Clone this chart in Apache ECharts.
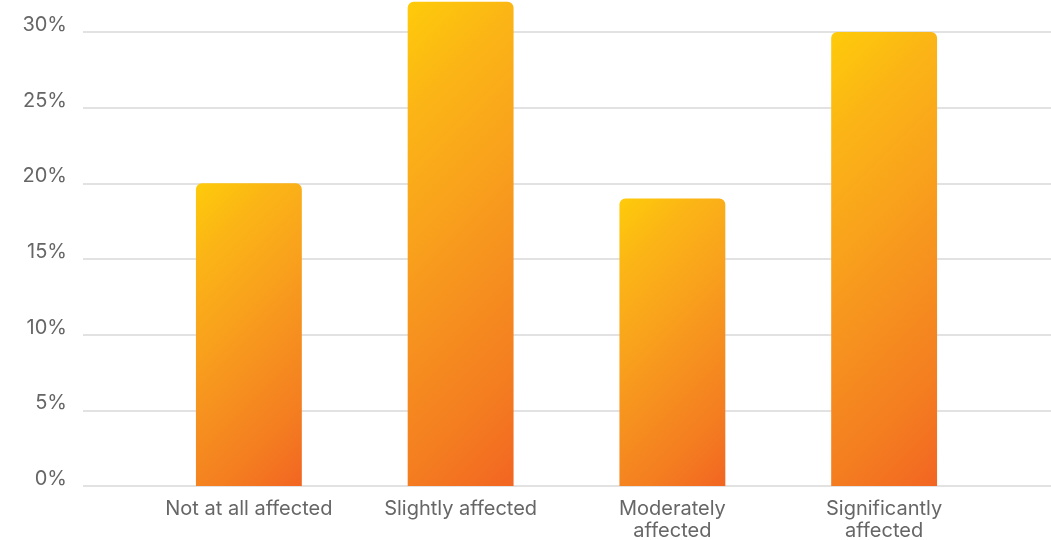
<!DOCTYPE html>
<html>
<head>
<meta charset="utf-8">
<script src="https://cdn.jsdelivr.net/npm/echarts@6/dist/echarts.min.js"></script>
<style>
  html, body { margin: 0; padding: 0; background: #ffffff; }
  #chart { width: 1051px; height: 540px; }
</style>
</head>
<body>
<div id="chart"></div>
<script>
// Share of respondents by how much they were affected
const categories = ['Not at all affected', 'Slightly affected', 'Moderately\naffected', 'Significantly\naffected'];
const shares = [20, 32, 19, 30];

const Y_MIN = 0, Y_MAX = 30, Y_STEP = 5;
const TEXT = '#666666';
const GRIDLINE = '#d9d9d9';
const FONT = 'Inter';
const BAR_RATIO = 0.5;

// yellow-to-red ramp laid along a 45 degree direction inside each bar
const rampStops = [
  { offset: 0, color: '#FECB0A' },
  { offset: 0.2, color: '#FBB416' },
  { offset: 0.4, color: '#F9A31C' },
  { offset: 0.6, color: '#F6901F' },
  { offset: 0.8, color: '#F47E20' },
  { offset: 1, color: '#F26522' }
];

const chart = echarts.init(document.getElementById('chart'), null, { renderer: 'canvas' });
chart.setOption({
  animation: false,
  grid: [
    // full-width grid carrying the percentage scale and gridlines
    { left: 83, right: 0, top: 32, bottom: 54, outerBoundsMode: 'none' },
    // narrower grid holding the bars
    { left: 143, right: 61, top: 32, bottom: 54, outerBoundsMode: 'none' }
  ],
  xAxis: [
    { gridIndex: 0, type: 'category', data: [''], show: false },
    {
      gridIndex: 1,
      type: 'category',
      data: categories,
      axisLine: { show: false },
      axisTick: { show: false },
      axisLabel: {
        interval: 0,
        hideOverlap: false,
        color: TEXT,
        fontFamily: FONT,
        fontSize: 20,
        lineHeight: 22,
        margin: 12
      }
    }
  ],
  yAxis: [
    {
      gridIndex: 0,
      type: 'value',
      min: Y_MIN,
      max: Y_MAX,
      interval: Y_STEP,
      axisLine: { show: false },
      axisTick: { show: false },
      splitLine: { lineStyle: { color: GRIDLINE, width: 1.5 } },
      axisLabel: {
        formatter: '{value}%',
        color: TEXT,
        fontFamily: FONT,
        fontSize: 20,
        margin: 16,
        verticalAlign: 'bottom',
        lineHeight: 14
      }
    },
    {
      gridIndex: 1,
      type: 'value',
      min: Y_MIN,
      max: Y_MAX,
      interval: Y_STEP,
      show: false
    }
  ],
  series: [
    {
      type: 'bar',
      xAxisIndex: 1,
      yAxisIndex: 1,
      data: shares,
      barWidth: BAR_RATIO * 100 + '%',
      clip: false,
      itemStyle: {
        color: '#F89B1D',
        borderRadius: [6, 6, 0, 0]
      }
    }
  ]
});

// Give every bar its own gradient whose direction is 45 degrees in screen space,
// using the bar's size as the axes lay it out.
const finder = { xAxisIndex: 1, yAxisIndex: 1 };
const band = chart.convertToPixel(finder, [1, 0])[0] - chart.convertToPixel(finder, [0, 0])[0];
const barW = band * BAR_RATIO;
const styled = shares.map(function (v, i) {
  const top = chart.convertToPixel(finder, [i, v])[1];
  const base = chart.convertToPixel(finder, [i, 0])[1];
  const h = Math.abs(base - top);
  const k = (barW + h) / 2;
  return {
    value: v,
    itemStyle: {
      color: new echarts.graphic.LinearGradient(0, 0, k / barW, k / h, rampStops)
    }
  };
});
chart.setOption({ series: [{ data: styled }] });
</script>
</body>
</html>
